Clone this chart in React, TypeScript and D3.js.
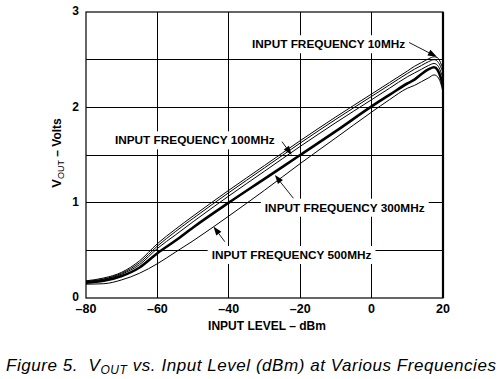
import React, { useEffect, useRef } from "react";
import * as d3 from "d3";

const W = 504;
const H = 379;

const xTicks = [-80, -60, -40, -20, 0, 20];
const xTickLabels = ["\u201380", "\u201360", "\u201340", "\u201320", "0", "20"];
const yTicks = [0, 1, 2, 3];
const yGrid = [0.5, 1, 1.5, 2, 2.5];

const inputDbm = [-80, -75, -70, -65, -60, -55, -50, -40, -30, -20, -10, 0, 5, 10, 12, 14, 16, 17.5, 18.5, 19.3, 20];
const v10 = [0.18, 0.21, 0.27, 0.39, 0.57, 0.72, 0.86, 1.13, 1.39, 1.65, 1.9, 2.14, 2.26, 2.38, 2.43, 2.47, 2.51, 2.53, 2.52, 2.47, 2.4];
const v50 = [0.175, 0.2, 0.26, 0.37, 0.545, 0.695, 0.835, 1.105, 1.365, 1.625, 1.875, 2.115, 2.235, 2.355, 2.4, 2.44, 2.48, 2.5, 2.48, 2.43, 2.36];
const v100 = [0.17, 0.195, 0.25, 0.35, 0.52, 0.66, 0.8, 1.07, 1.33, 1.59, 1.84, 2.08, 2.2, 2.32, 2.36, 2.4, 2.44, 2.46, 2.44, 2.38, 2.3];
const v300 = [0.16, 0.18, 0.23, 0.32, 0.47, 0.6, 0.74, 1.0, 1.25, 1.5, 1.75, 2.01, 2.13, 2.25, 2.29, 2.35, 2.4, 2.42, 2.39, 2.32, 2.22];
const v500 = [0.145, 0.15, 0.19, 0.26, 0.36, 0.48, 0.6, 0.86, 1.13, 1.41, 1.68, 1.95, 2.08, 2.2, 2.23, 2.27, 2.31, 2.34, 2.32, 2.26, 2.16];

const seriesNames = ["10MHz", "50MHz", "100MHz", "300MHz", "500MHz"];
const seriesValues = [v10, v50, v100, v300, v500];
const seriesWidths = [1, 1, 1, 2.6, 1];

// annotations in data units: text start (dBm, V), arrow tail, arrow head
const annText = ["INPUT FREQUENCY 10MHz", "INPUT FREQUENCY 100MHz", "INPUT FREQUENCY 300MHz", "INPUT FREQUENCY 500MHz"];
const annPos = [[-33.5, 2.62], [-71.9, 1.612], [-29.9, 0.905], [-44.8, 0.409]];
const annTail = [[10.5, 2.68], [-25.1, 1.64], [-21.9, 1.046], [-41.1, 0.59]];
const annHead = [[18.3, 2.53], [-22.4, 1.5], [-27.1, 1.29], [-44.3, 0.75]];

export default function App() {
  const ref = useRef<SVGSVGElement>(null);

  useEffect(() => {
    const svg = d3.select(ref.current);
    svg.selectAll("*").remove();
    const x = d3.scaleLinear().domain([-80, 20]).range([86, 443]);
    const y = d3.scaleLinear().domain([0, 3]).range([298, 12]);
    const font = "'Liberation Sans', Arial, Helvetica, sans-serif";

    svg.append("defs").append("clipPath").attr("id", "plotclip")
      .append("rect").attr("x", x(-80)).attr("y", y(3)).attr("width", x(20) - x(-80)).attr("height", y(0) - y(3));

    const g = svg.append("g");
    // grid
    xTicks.slice(1, -1).forEach((t) => {
      g.append("line").attr("x1", x(t)).attr("x2", x(t)).attr("y1", y(0)).attr("y2", y(3))
        .attr("stroke", "#000").attr("stroke-width", 1).attr("shape-rendering", "crispEdges");
    });
    yGrid.forEach((t) => {
      g.append("line").attr("x1", x(-80)).attr("x2", x(20)).attr("y1", y(t)).attr("y2", y(t))
        .attr("stroke", "#000").attr("stroke-width", 1).attr("shape-rendering", "crispEdges");
    });

    // annotations (white background boxes first)
    const annG = svg.append("g");
    annText.forEach((t, i) => {
      const txt = annG.append("text")
        .attr("x", x(annPos[i][0])).attr("y", y(annPos[i][1]))
        .attr("font-family", font).attr("font-weight", "bold").attr("font-size", 11.8)
        .attr("fill", "#000").text(t);
      const bb = (txt.node() as SVGTextElement).getBBox();
      annG.insert("rect", "text")
        .attr("x", bb.x - 4).attr("y", bb.y - 2).attr("width", bb.width + 8).attr("height", bb.height + 4)
        .attr("fill", "#fff");
      const x1 = x(annTail[i][0]), y1 = y(annTail[i][1]);
      const x2 = x(annHead[i][0]), y2 = y(annHead[i][1]);
      const ang = Math.atan2(y2 - y1, x2 - x1);
      const len = 9, hw = 3.2;
      const bx = x2 - len * Math.cos(ang), by = y2 - len * Math.sin(ang);
      annG.append("line").attr("x1", x1).attr("y1", y1).attr("x2", bx).attr("y2", by)
        .attr("stroke", "#000").attr("stroke-width", 0.9);
      annG.append("path")
        .attr("d", `M${x2},${y2}L${bx - hw * Math.sin(ang)},${by + hw * Math.cos(ang)}L${bx + hw * Math.sin(ang)},${by - hw * Math.cos(ang)}Z`)
        .attr("fill", "#000");
    });

    // curves
    const line = d3.line<number>()
      .x((_, i) => x(inputDbm[i]))
      .y((d) => y(d))
      .curve(d3.curveMonotoneX);
    const cg = svg.append("g").attr("clip-path", "url(#plotclip)");
    seriesValues.forEach((vals, i) => {
      cg.append("path").datum(vals).attr("d", line as any)
        .attr("fill", "none").attr("stroke", "#000").attr("stroke-width", seriesWidths[i])
        .attr("data-name", seriesNames[i]);
    });

    // frame
    svg.append("rect").attr("x", x(-80)).attr("y", y(3)).attr("width", x(20) - x(-80)).attr("height", y(0) - y(3))
      .attr("fill", "none").attr("stroke", "#000").attr("stroke-width", 1.2);
    svg.append("line").attr("x1", x(20)).attr("x2", x(20)).attr("y1", y(3)).attr("y2", y(0))
      .attr("stroke", "#000").attr("stroke-width", 2.2);

    // tick labels
    xTicks.forEach((t, i) => {
      svg.append("text").attr("x", x(t)).attr("y", 313).attr("text-anchor", "middle")
        .attr("font-family", font).attr("font-weight", "bold").attr("font-size", 12.5).text(xTickLabels[i]);
    });
    yTicks.forEach((t) => {
      svg.append("text").attr("x", 79).attr("y", y(t) - 1).attr("dy", "0.36em").attr("text-anchor", "end")
        .attr("font-family", font).attr("font-weight", "bold").attr("font-size", 12).text(String(t));
    });

    // axis titles
    svg.append("text").attr("x", 267).attr("y", 330).attr("text-anchor", "middle")
      .attr("font-family", font).attr("font-weight", "bold").attr("font-size", 12).text("INPUT LEVEL \u2013 dBm");

    const yl = svg.append("text").attr("transform", "translate(61,153) rotate(-90)").attr("text-anchor", "middle")
      .attr("font-family", font).attr("font-size", 12);
    yl.append("tspan").attr("font-weight", "bold").attr("font-size", 13).text("V");
    yl.append("tspan").attr("font-size", 9).attr("dy", 3).text("OUT");
    yl.append("tspan").attr("font-weight", "bold").attr("dy", -3).text(" \u2013 Volts");

    // caption
    const cap = svg.append("text").attr("x", 6).attr("y", 371)
      .attr("font-family", font).attr("font-style", "italic").attr("font-size", 17)
      .attr("letter-spacing", 0.55);
    cap.append("tspan").text("Figure 5.\u00A0\u00A0V");
    cap.append("tspan").attr("font-size", 12).attr("dy", 3).text("OUT");
    cap.append("tspan").attr("dy", -3).text(" vs. Input Level (dBm) at Various Frequencies");
  }, []);

  return (
    <svg ref={ref} width={W} height={H} style={{ position: "absolute", left: 0, top: 0, background: "#fff" }} />
  );
}
